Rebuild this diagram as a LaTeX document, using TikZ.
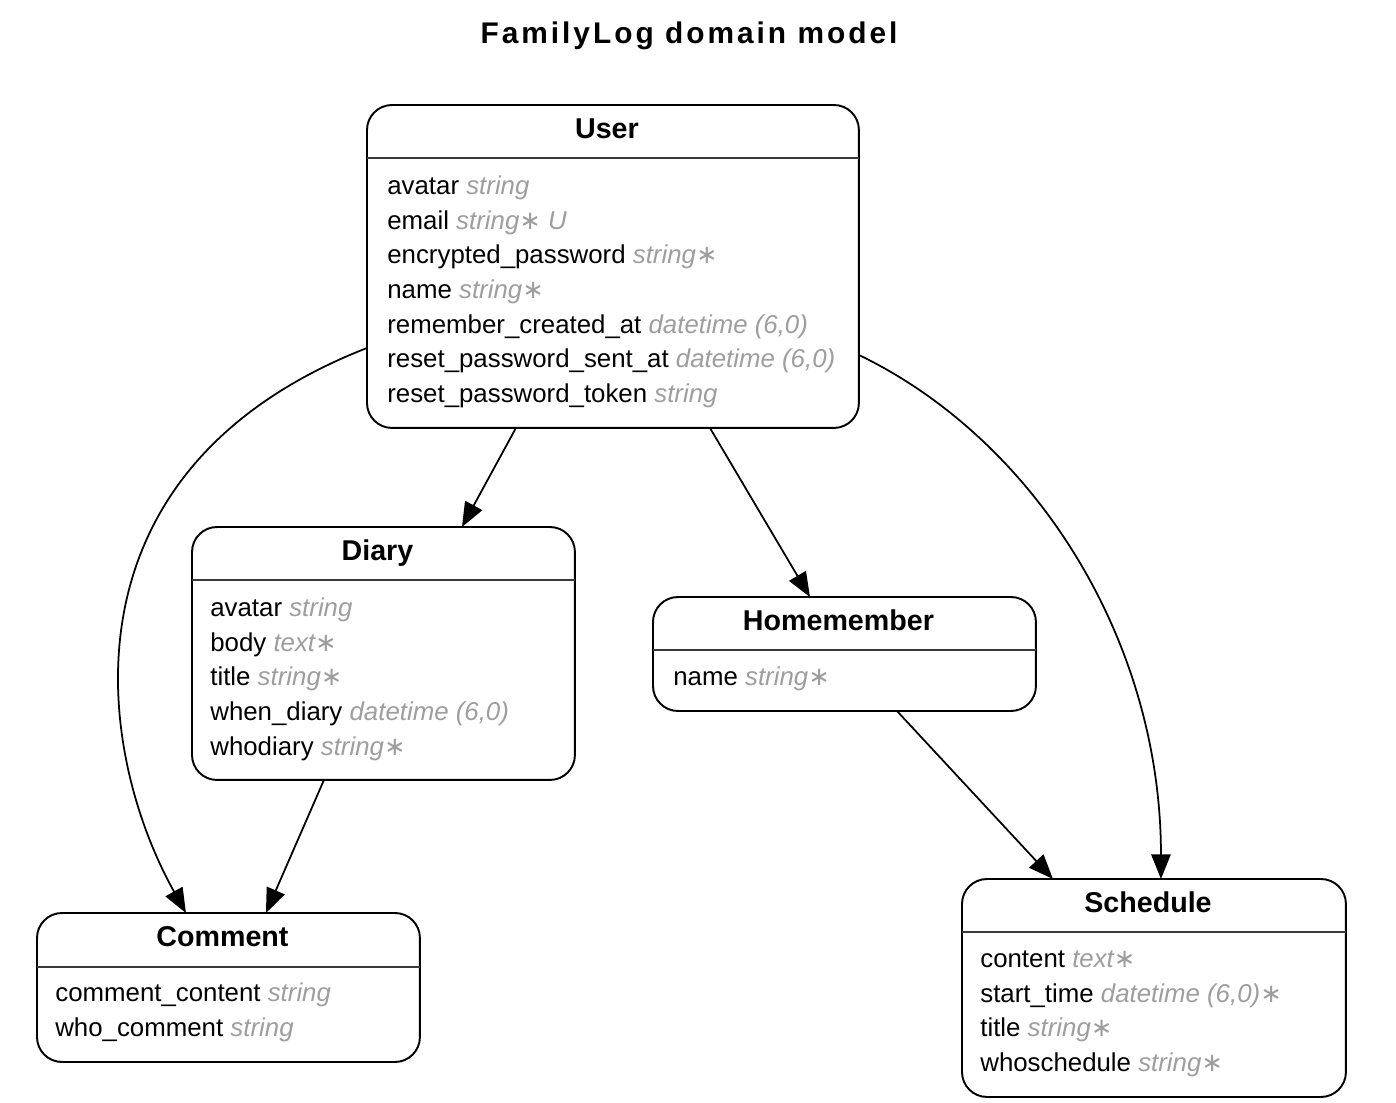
\documentclass[tikz,border=0pt]{standalone}
\usepackage{fontspec}
\setmainfont{Liberation Sans}
\newfontfamily\titlefont{Liberation Sans}[LetterSpace=10]
\newfontfamily\symfont{DejaVu Sans}
\usetikzlibrary{calc,arrows.meta}
\definecolor{typeGray}{HTML}{9E9E9E}
\definecolor{ruleGray}{HTML}{3A3A3A}
\newcommand{\ty}[1]{{\itshape\color{typeGray}#1}}
\newcommand{\req}{{\symfont ∗}}

\tikzset{
  entity/.style={draw=black, line width=1.1pt, rounded corners=0.5cm, anchor=north west, inner sep=0pt, outer sep=0pt},
  divider/.style={draw=ruleGray, line width=1.5pt},
  entitytitle/.style={font=\bfseries\fontsize{16.3}{19}\selectfont, anchor=base},
  attrs/.style={font=\fontsize{14.7}{19.7}\selectfont, align=left, anchor=north west, inner sep=0pt},
  rel/.style={line width=1pt, -{Triangle[length=14pt,width=11pt]}}
}

\begin{document}
\begin{tikzpicture}[x=0.02cm, y=-0.02cm]
  \useasboundingbox[fill=white] (0,0) rectangle (1396,1102);
  \node[font=\titlefont\bfseries\fontsize{17}{20}\selectfont, anchor=base] (title) at (689,43) {FamilyLog domain model};

  % User
  \node[entity, minimum width=9.84cm, minimum height=6.46cm] (user) at (367,105) {};
  \draw[divider] ($(user.north west)+(0,53)$) -- ($(user.north east)+(0,53)$);
  \node[entitytitle] (userTitle) at ($(user.north)+(-6,33)$) {User};
  \node[attrs] (userAttrs) at ($(user.north west)+(20,65)$) {\strut avatar \ty{string}\\
    email \ty{string\req\ U}\\
    encrypted\_password \ty{string\req}\\
    name \ty{string\req}\\
    remember\_created\_at \ty{datetime (6,0)}\\
    reset\_password\_sent\_at \ty{datetime (6,0)}\\
    reset\_password\_token \ty{string}};

  % Diary
  \node[entity, minimum width=7.66cm, minimum height=5.06cm] (diary) at (192,527) {};
  \draw[divider] ($(diary.north west)+(0,53)$) -- ($(diary.north east)+(0,53)$);
  \node[entitytitle] (diaryTitle) at ($(diary.north)+(-6,33)$) {Diary};
  \node[attrs] (diaryAttrs) at ($(diary.north west)+(18,65)$) {\strut avatar \ty{string}\\
    body \ty{text\req}\\
    title \ty{string\req}\\
    when\_diary \ty{datetime (6,0)}\\
    whodiary \ty{string\req}};

  % Homemember
  \node[entity, minimum width=7.66cm, minimum height=2.28cm] (homemember) at (653,597) {};
  \draw[divider] ($(homemember.north west)+(0,53)$) -- ($(homemember.north east)+(0,53)$);
  \node[entitytitle] (homememberTitle) at ($(homemember.north)+(-6,33)$) {Homemember};
  \node[attrs] (homememberAttrs) at ($(homemember.north west)+(20,64)$) {\strut name \ty{string\req}};

  % Comment
  \node[entity, minimum width=7.66cm, minimum height=2.98cm] (comment) at (37,913) {};
  \draw[divider] ($(comment.north west)+(0,54)$) -- ($(comment.north east)+(0,54)$);
  \node[entitytitle] (commentTitle) at ($(comment.north)+(-6,33)$) {Comment};
  \node[attrs] (commentAttrs) at ($(comment.north west)+(18,64)$) {\strut comment\_content \ty{string}\\
    who\_comment \ty{string}};

  % Schedule
  \node[entity, minimum width=7.68cm, minimum height=4.36cm] (schedule) at (962,879) {};
  \draw[divider] ($(schedule.north west)+(0,53)$) -- ($(schedule.north east)+(0,53)$);
  \node[entitytitle] (scheduleTitle) at ($(schedule.north)+(-6,33)$) {Schedule};
  \node[attrs] (scheduleAttrs) at ($(schedule.north west)+(18,64)$) {\strut content \ty{text\req}\\
    start\_time \ty{datetime (6,0)\req}\\
    title \ty{string\req}\\
    whoschedule \ty{string\req}};

  % relations
  \draw[rel] ($(user.west)+(0,81.5)$) .. controls (55,470) and (95,750) .. ($(comment.north)+(-42.5,0)$);
  \draw[rel] ($(user.south)+(-97,0)$) -- ($(diary.north)+(78.5,0)$);
  \draw[rel] ($(user.south)+(97,0)$) -- ($(homemember.north)+(-34.5,0)$);
  \draw[rel] ($(user.east)+(0,88.5)$) .. controls (1035,440) and (1161,640) .. ($(schedule.north)+(7,0)$);
  \draw[rel] ($(diary.south)+(-59.5,0)$) -- ($(comment.north)+(37.5,0)$);
  \draw[rel] ($(homemember.south)+(52.5,0)$) -- ($(schedule.north)+(-101,0)$);
\end{tikzpicture}
\end{document}
